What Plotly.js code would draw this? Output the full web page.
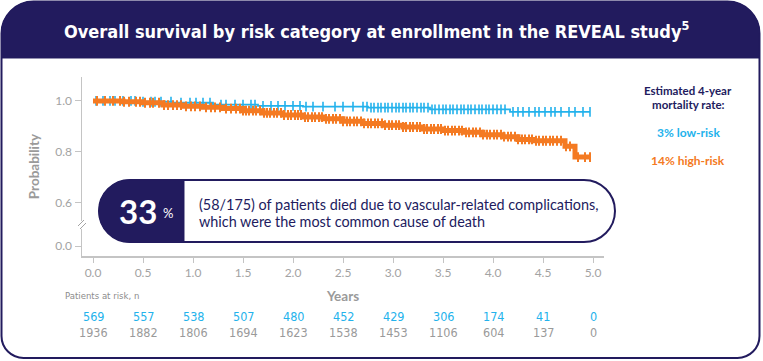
<!DOCTYPE html>
<html><head><meta charset="utf-8">
<script src="https://cdn.plot.ly/plotly-3.0.1.min.js"></script>
<style>html,body{margin:0;padding:0;background:#fff;}#chart{width:763px;height:361px;}</style>
</head><body><div id="chart"></div>
<script>
// ---------------- data ----------------
const xTickVals = [0, 0.5, 1, 1.5, 2, 2.5, 3, 3.5, 4, 4.5, 5];
const xTickText = ['0.0','0.5','1.0','1.5','2.0','2.5','3.0','3.5','4.0','4.5','5.0'];
// broken y axis: "0.0" drawn below the break
const yTickVals = [0.431, 0.6, 0.8, 1.0];
const yTickText = ['0.0', '0.6', '0.8', '1.0'];

const lowRiskTimes = [0, 0.45, 0.8, 1.2, 1.65, 2.1, 2.75, 3.37, 4.17, 4.97];
const lowRiskSurv  = [1.0, 0.997, 0.993, 0.986, 0.981, 0.978, 0.974, 0.967, 0.957, 0.957];

const highRiskTimes = [0, 0.3, 0.5, 0.7, 0.9, 1.1, 1.3, 1.5, 1.7, 1.9, 2.1, 2.3, 2.5, 2.7, 2.9, 3.1, 3.3, 3.5, 3.7, 3.9, 4.1, 4.25, 4.4, 4.72, 4.82, 4.97];
const highRiskSurv  = [1.0, 0.997, 0.993, 0.984, 0.979, 0.975, 0.97, 0.962, 0.953, 0.945, 0.937, 0.93, 0.92, 0.912, 0.905, 0.898, 0.89, 0.884, 0.877, 0.868, 0.86, 0.849, 0.844, 0.822, 0.78, 0.78];

const lowRiskCensor = [0.03,0.1,0.17,0.22,0.3,0.38,0.42,0.5,0.58,0.62,0.68,0.78,0.88,0.97,1.03,1.1,1.17,1.28,1.33,1.42,1.5,1.58,1.62,1.7,1.78,1.85,1.92,2.0,2.07,2.13,2.2,2.3,2.42,2.5,2.6,2.7,2.74,2.78,2.81,2.85,2.88,2.92,2.95,2.99,3.03,3.06,3.1,3.13,3.17,3.2,3.24,3.28,3.31,3.35,3.39,3.42,3.46,3.5,3.53,3.57,3.6,3.64,3.68,3.71,3.75,3.78,3.82,3.86,3.89,3.93,3.96,4.0,4.04,4.08,4.12,4.2,4.25,4.3,4.36,4.42,4.46,4.52,4.58,4.62,4.68,4.76,4.82,4.9,4.97];
const highRiskCensor = [0.04,0.12,0.2,0.27,0.31,0.36,0.43,0.47,0.52,0.57,0.6,0.66,0.71,0.75,0.8,0.84,0.88,0.93,0.98,1.02,1.07,1.13,1.18,1.22,1.27,1.33,1.38,1.43,1.47,1.5,1.53,1.56,1.6,1.63,1.67,1.71,1.74,1.77,1.81,1.84,1.88,1.91,1.95,1.98,2.02,2.05,2.08,2.12,2.15,2.19,2.22,2.26,2.29,2.33,2.36,2.4,2.43,2.47,2.5,2.54,2.57,2.61,2.64,2.68,2.71,2.75,2.78,2.82,2.85,2.89,2.92,2.96,2.99,3.03,3.06,3.1,3.13,3.17,3.2,3.24,3.27,3.31,3.34,3.38,3.41,3.45,3.48,3.52,3.55,3.59,3.62,3.66,3.69,3.73,3.76,3.8,3.83,3.87,3.9,3.94,3.97,4.01,4.04,4.08,4.11,4.15,4.18,4.22,4.25,4.29,4.32,4.36,4.39,4.43,4.46,4.5,4.53,4.57,4.6,4.64,4.68,4.73,4.77,4.85,4.92,4.97];

const atRiskTimes = [0, 0.5, 1, 1.5, 2, 2.5, 3, 3.5, 4, 4.5, 5];
const atRiskLow  = [569, 557, 538, 507, 480, 452, 429, 306, 174, 41, 0];
const atRiskHigh = [1936, 1882, 1806, 1694, 1623, 1538, 1453, 1106, 604, 137, 0];

// ---------------- styles ----------------
const NAVY = '#221b5e', BLUE = '#23b2ec', ORANGE = '#f47a22', GREY = '#a3a3a3';
const W = 763, H = 361, M = {l: 82, r: 159, t: 77, b: 105};
const PW = W - M.l - M.r, PH = H - M.t - M.b;
const px = x => (x - M.l) / PW;
const py = y => (H - M.b - y) / PH;
const P = (x, y) => px(x).toFixed(5) + ',' + py(y).toFixed(5);

function rr(x0, y0, x1, y1, rtl, rtr, rbr, rbl) {
  const c = 0.5523;
  let d = 'M' + P(x0 + rtl, y0) + ' L' + P(x1 - rtr, y0);
  if (rtr) d += ' C' + P(x1 - rtr + rtr * c, y0) + ' ' + P(x1, y0 + rtr - rtr * c) + ' ' + P(x1, y0 + rtr);
  d += ' L' + P(x1, y1 - rbr);
  if (rbr) d += ' C' + P(x1, y1 - rbr + rbr * c) + ' ' + P(x1 - rbr + rbr * c, y1) + ' ' + P(x1 - rbr, y1);
  d += ' L' + P(x0 + rbl, y1);
  if (rbl) d += ' C' + P(x0 + rbl - rbl * c, y1) + ' ' + P(x0, y1 - rbl + rbl * c) + ' ' + P(x0, y1 - rbl);
  d += ' L' + P(x0, y0 + rtl);
  if (rtl) d += ' C' + P(x0, y0 + rtl - rtl * c) + ' ' + P(x0 + rtl - rtl * c, y0) + ' ' + P(x0 + rtl, y0);
  return d + ' Z';
}

function survAt(times, surv, t) {
  let s = surv[0];
  for (let i = 0; i < times.length; i++) if (times[i] <= t) s = surv[i];
  return s;
}

const traces = [
  {x: lowRiskTimes, y: lowRiskSurv, mode: 'lines', line: {shape: 'hv', color: BLUE, width: 1.8}, hoverinfo: 'skip', showlegend: false},
  {x: lowRiskCensor, y: lowRiskCensor.map(t => survAt(lowRiskTimes, lowRiskSurv, t)), mode: 'markers',
   marker: {symbol: 'line-ns', size: 7, line: {color: BLUE, width: 1.6}}, hoverinfo: 'skip', showlegend: false},
  {x: highRiskTimes, y: highRiskSurv, mode: 'lines', line: {shape: 'hv', color: ORANGE, width: 5}, hoverinfo: 'skip', showlegend: false},
  {x: highRiskCensor, y: highRiskCensor.map(t => survAt(highRiskTimes, highRiskSurv, t)), mode: 'markers',
   marker: {symbol: 'line-ns', size: 7, line: {color: ORANGE, width: 2}}, hoverinfo: 'skip', showlegend: false}
];

const FONT = 'Lato, "Open Sans", sans-serif';
const NARROW = '"DejaVu Sans Condensed", Roboto, sans-serif';

const ann = [];
const A = (o) => ann.push(Object.assign({xref: 'paper', yref: 'paper', showarrow: false, xanchor: 'center', yanchor: 'middle'}, o));

A({x: px(376), y: py(30), text: '<b>Overall survival by risk category at enrollment in the REVEAL study<sup>5</sup></b>',
   font: {family: NARROW, size: 18, color: '#ffffff'}});
A({x: px(688), y: py(90), text: '<b>Estimated 4-year</b>', font: {family: FONT, size: 11.5, color: NAVY}});
A({x: px(688), y: py(104), text: '<b>mortality rate:</b>', font: {family: FONT, size: 11.5, color: NAVY}});
A({x: px(688), y: py(132), text: '<b>3% low-risk</b>', font: {family: FONT, size: 12, color: BLUE}});
A({x: px(688), y: py(160), text: '<b>14% high-risk</b>', font: {family: FONT, size: 12, color: ORANGE}});

A({x: px(138), y: py(211), text: '<b>33</b>', font: {family: FONT, size: 33, color: '#ffffff'}});
A({x: px(168), y: py(213), text: '%', font: {family: FONT, size: 13, color: '#ffffff'}});
A({x: px(197), y: py(204), xanchor: 'left', text: '(58/175) of patients died due to vascular-related complications,', font: {family: FONT, size: 14.4, color: NAVY}});
A({x: px(197), y: py(221), xanchor: 'left', text: 'which were the most common cause of death', font: {family: FONT, size: 14.4, color: NAVY}});

A({x: px(63), y: py(295), xanchor: 'left', text: 'Patients at risk, n', font: {family: NARROW, size: 9.5, color: '#8c8c8c'}});
atRiskTimes.forEach((t, i) => {
  ann.push({x: t, xref: 'x', y: py(316), yref: 'paper', yanchor: 'middle', xanchor: 'center', showarrow: false, text: String(atRiskLow[i]),
            font: {family: NARROW, size: 12.5, color: BLUE}});
  ann.push({x: t, xref: 'x', y: py(332), yref: 'paper', yanchor: 'middle', xanchor: 'center', showarrow: false, text: String(atRiskHigh[i]),
            font: {family: NARROW, size: 12.5, color: '#9a9a9a'}});
});

const shapes = [
  {type: 'path', xref: 'paper', yref: 'paper', layer: 'below', path: rr(1.5, 1.5, 759.5, 358, 32, 32, 22, 22), fillcolor: '#ffffff', line: {color: NAVY, width: 2}},
  {type: 'path', xref: 'paper', yref: 'paper', layer: 'below', path: rr(1.5, 1.5, 759.5, 58, 32, 32, 0, 0), fillcolor: NAVY, line: {color: NAVY, width: 1}},
  {type: 'path', xref: 'paper', yref: 'paper', layer: 'above', path: rr(99, 180, 615, 242, 31, 31, 31, 31), fillcolor: '#ffffff', line: {color: NAVY, width: 2}},
  {type: 'path', xref: 'paper', yref: 'paper', layer: 'above', path: rr(99, 180, 184, 242, 31, 0, 0, 31), fillcolor: NAVY, line: {color: NAVY, width: 1}},
  // axis break marks
  {type: 'line', xref: 'paper', yref: 'paper', layer: 'above', x0: px(82), x1: px(82), y0: py(221), y1: py(229), line: {color: '#ffffff', width: 3}},
  {type: 'line', xref: 'paper', yref: 'paper', layer: 'above', x0: px(78), x1: px(84), y0: py(226), y1: py(220), line: {color: GREY, width: 1}},
  {type: 'line', xref: 'paper', yref: 'paper', layer: 'above', x0: px(80), x1: px(86), y0: py(229), y1: py(223), line: {color: GREY, width: 1}}
];

const layout = {
  width: W, height: H, margin: M,
  paper_bgcolor: '#ffffff', plot_bgcolor: 'rgba(0,0,0,0)',
  showlegend: false,
  xaxis: {range: [-0.11, 5.11], tickvals: xTickVals, ticktext: xTickText, showgrid: false, zeroline: false,
          showline: true, linecolor: '#c4c4c4', linewidth: 1.5, ticks: 'outside', ticklen: 5, tickcolor: '#c4c4c4',
          tickfont: {family: FONT, size: 12, color: GREY},
          title: {text: '<b>Years</b>', font: {family: FONT, size: 13.5, color: '#9a9a9a'}, standoff: 12}},
  yaxis: {range: [0.392, 1.094], tickvals: yTickVals, ticktext: yTickText, showgrid: false, zeroline: false,
          showline: true, linecolor: '#c4c4c4', linewidth: 1.5, ticks: 'outside', ticklen: 6, tickcolor: '#c4c4c4',
          tickfont: {family: FONT, size: 12, color: GREY},
          title: {text: '<b>Probability</b>', font: {family: FONT, size: 13.5, color: '#9a9a9a'}, standoff: 12}},
  shapes: shapes,
  annotations: ann
};

Plotly.newPlot('chart', traces, layout, {staticPlot: true, displayModeBar: false});
</script>
</body></html>
